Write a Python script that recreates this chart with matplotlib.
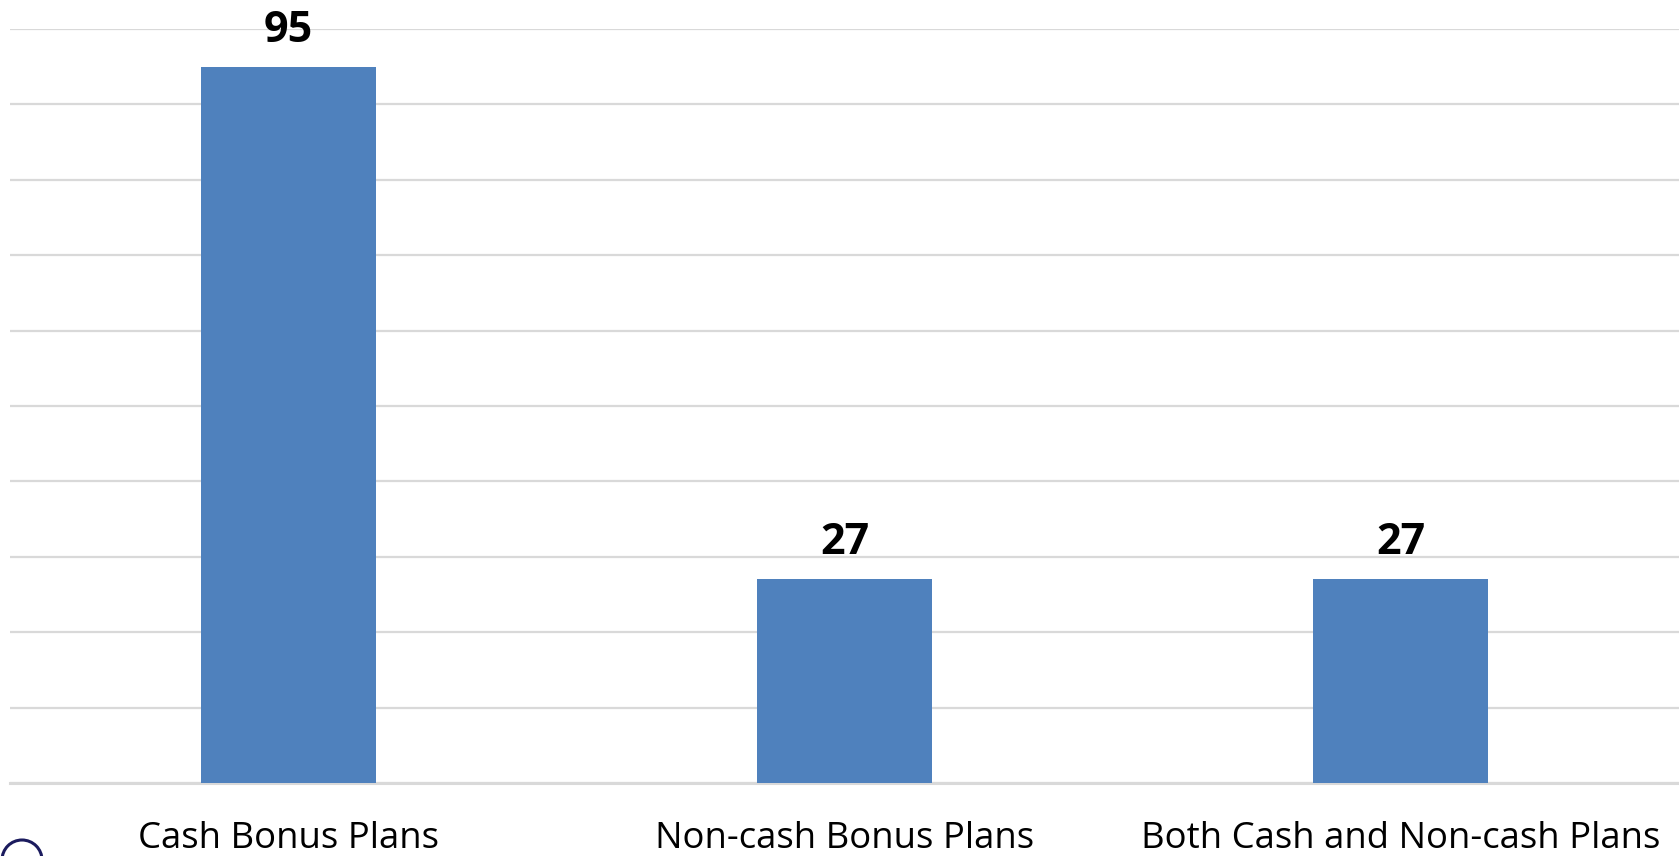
import matplotlib.pyplot as plt
from matplotlib.patches import Arc

# bonus plan counts
categories = ['Cash Bonus Plans', 'Non-cash Bonus Plans', 'Both Cash and Non-cash Plans']
counts = [95, 27, 27]

plt.rcParams['font.family'] = ['Open Sans', 'DejaVu Sans']

fig = plt.figure(figsize=(16.79, 8.56), dpi=100)
ax = fig.add_axes([10 / 1679, 73 / 856, 1669 / 1679, 754 / 856])

x = range(len(categories))
bars = ax.bar(x, counts, width=0.314, color='#4f81bd', zorder=3)

ax.set_xlim(-0.5, len(categories) - 0.5)
ax.set_ylim(0, 100)
ax.set_yticks(range(0, 101, 10))
ax.set_yticklabels([])
ax.tick_params(axis='y', length=0)
ax.tick_params(axis='x', length=0, pad=27)
ax.set_xticks(list(x))
ax.set_xticklabels(categories, fontsize=26.3, color='black')

ax.grid(axis='y', color='#d9d9d9', linewidth=1.6, zorder=0)
for s in ['top', 'right', 'left']:
    ax.spines[s].set_visible(False)
ax.spines['bottom'].set_color('#d9d9d9')
ax.spines['bottom'].set_linewidth(2.2)

for b, v in zip(bars, counts):
    ax.annotate(str(v), (b.get_x() + b.get_width() / 2, v), xytext=(0, 18),
                textcoords='offset points', ha='center', va='baseline',
                fontsize=31, fontweight='bold', color='black')

# corner of the logo peeking in at the bottom left
fig.patches.append(Arc((22 / 1679, -4 / 856), 40 / 1679, 40 / 856,
                       transform=fig.transFigure, theta1=0, theta2=180,
                       color='#1b1b5e', linewidth=2.2))

fig.savefig('out.png', dpi=100)
